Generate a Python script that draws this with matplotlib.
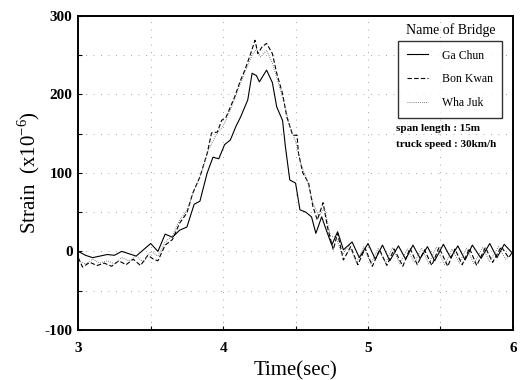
import matplotlib
matplotlib.use("Agg")
import matplotlib.pyplot as plt

# --- data ---
t_ga = [3.00, 3.05, 3.10, 3.15, 3.20, 3.25, 3.30, 3.35, 3.40, 3.45, 3.50, 3.55,
        3.60, 3.65, 3.70, 3.75, 3.80, 3.84, 3.89, 3.93, 3.97, 4.01, 4.05, 4.09,
        4.12, 4.17, 4.20, 4.23, 4.25, 4.30, 4.34, 4.37, 4.41, 4.43, 4.46, 4.50,
        4.53, 4.57, 4.61, 4.64, 4.68, 4.72, 4.75, 4.79, 4.83, 4.89, 4.94, 5.00,
        5.05, 5.10, 5.15, 5.21, 5.26, 5.31, 5.36, 5.41, 5.46, 5.52, 5.57, 5.62,
        5.67, 5.72, 5.78, 5.84, 5.89, 5.94, 6.00]
ga_chun = [0, -5, -8, -6, -4, -5, 0, -3, -6, 2, 10, 0,
           22, 18, 27, 31, 60, 64, 100, 120, 118, 136, 142, 160,
           171, 193, 227, 224, 216, 231, 215, 184, 167, 133, 91, 87,
           53, 50, 44, 23, 44, 23, 8, 25, 2, 12, -8, 10,
           -10, 8, -12, 7, -10, 8, -9, 6, -12, 9, -8, 7,
           -11, 8, -9, 10, -8, 9, -3]

t_bon = [3.00, 3.03, 3.08, 3.13, 3.18, 3.23, 3.28, 3.33, 3.38, 3.43, 3.48, 3.52,
         3.55, 3.60, 3.65, 3.70, 3.75, 3.79, 3.84, 3.89, 3.92, 3.96, 3.99, 4.02,
         4.05, 4.08, 4.12, 4.15, 4.19, 4.22, 4.24, 4.27, 4.30, 4.34, 4.37, 4.41,
         4.44, 4.48, 4.51, 4.52, 4.55, 4.59, 4.62, 4.65, 4.69, 4.72, 4.76, 4.79,
         4.83, 4.88, 4.93, 4.98, 5.03, 5.08, 5.13, 5.18, 5.24, 5.29, 5.34, 5.39,
         5.44, 5.49, 5.55, 5.60, 5.65, 5.70, 5.75, 5.81, 5.86, 5.92, 5.97, 6.00]
bon_kwan = [-8, -20, -14, -18, -15, -19, -12, -17, -10, -18, -5, -10,
            -12, 8, 15, 36, 49, 74, 95, 125, 151, 152, 167, 171,
            184, 197, 218, 231, 252, 269, 252, 261, 265, 252, 227, 201,
            171, 148, 148, 125, 100, 87, 57, 40, 62, 31, 2, 23,
            -11, 6, -17, 4, -19, 2, -18, 3, -19, 4, -17, 2,
            -18, 5, -19, 3, -17, 4, -18, 5, -14, 6, -8, 0]

t_wha = [3.00, 3.05, 3.10, 3.15, 3.20, 3.25, 3.30, 3.35, 3.40, 3.45, 3.50, 3.55,
         3.60, 3.65, 3.70, 3.75, 3.80, 3.85, 3.90, 3.95, 4.00, 4.05, 4.10, 4.15,
         4.20, 4.23, 4.26, 4.30, 4.34, 4.38, 4.42, 4.46, 4.50, 4.54, 4.58, 4.62,
         4.66, 4.70, 4.74, 4.78, 4.82, 4.87, 4.92, 4.97, 5.02, 5.07, 5.12, 5.17,
         5.22, 5.27, 5.32, 5.37, 5.42, 5.47, 5.53, 5.58, 5.63, 5.68, 5.73, 5.79,
         5.84, 5.90, 5.95, 6.00]
wha_juk = [-12, -16, -10, -15, -12, -16, -8, -12, -6, -14, 0, -6,
           12, 20, 40, 52, 78, 100, 130, 148, 160, 180, 205, 228,
           250, 258, 248, 256, 240, 215, 190, 160, 140, 110, 90, 62,
           45, 55, 20, 18, -5, 8, -15, 6, -16, 4, -15, 5,
           -16, 3, -14, 4, -16, 5, -17, 3, -15, 4, -16, 5,
           -13, 6, -10, -2]

series_names = ["Ga Chun", "Bon Kwan", "Wha Juk"]
x_ticks = [3, 4, 5, 6]
y_ticks = [-100, 0, 100, 200, 300]

plt.rcParams["font.family"] = ["Liberation Serif", "DejaVu Serif"]
plt.rcParams["axes.unicode_minus"] = False

fig = plt.figure(figsize=(5.25, 3.8), dpi=100)
ax = fig.add_axes([0.149, 0.132, 0.828, 0.826])

ax.plot(t_ga, ga_chun, color="black", lw=0.8, label=series_names[0])
ax.plot(t_bon, bon_kwan, color="black", lw=0.8, ls=(0, (4, 2)),
        label=series_names[1])
ax.plot(t_wha, wha_juk, color="#555555", lw=0.6, ls=(0, (1, 1.5)),
        label=series_names[2])

ax.set_xlim(3, 6)
ax.set_ylim(-100, 300)
ax.set_xticks(x_ticks)
ax.set_yticks(y_ticks)
ax.set_xticks([3.5, 4.5, 5.5], minor=True)
ax.set_yticks([-50, 50, 150, 250], minor=True)
ax.tick_params(which="both", direction="in", length=3, width=0.8,
               labelsize=11)
ax.tick_params(axis="x", pad=9)
ax.tick_params(axis="y", pad=4)
for lab in ax.get_xticklabels() + ax.get_yticklabels():
    lab.set_fontweight("bold")
ax.grid(which="both", color="#888888", lw=0.6, ls=(0, (1, 8)))
for s in ax.spines.values():
    s.set_linewidth(1.4)

ax.set_xlabel("Time(sec)", fontsize=15, labelpad=4)
ax.set_ylabel(r"Strain  (x10$^{\mathregular{-6}}$)", fontsize=15, labelpad=2)

leg = ax.legend(loc="upper left", bbox_to_anchor=(0.722, 0.94), fontsize=8.5,
                frameon=True, fancybox=False, edgecolor="black",
                handlelength=1.8, labelspacing=1.0, borderpad=0.75,
                handletextpad=1.2)
leg.get_frame().set_linewidth(1.0)

ax.text(0.857, 0.955, "Name of Bridge", transform=ax.transAxes,
        ha="center", va="center", fontsize=10)
ax.text(0.731, 0.64, "span length : 15m", transform=ax.transAxes,
        ha="left", va="center", fontsize=8, fontweight="bold")
ax.text(0.731, 0.59, "truck speed : 30km/h", transform=ax.transAxes,
        ha="left", va="center", fontsize=8, fontweight="bold")

fig.savefig("out.png", dpi=100)
